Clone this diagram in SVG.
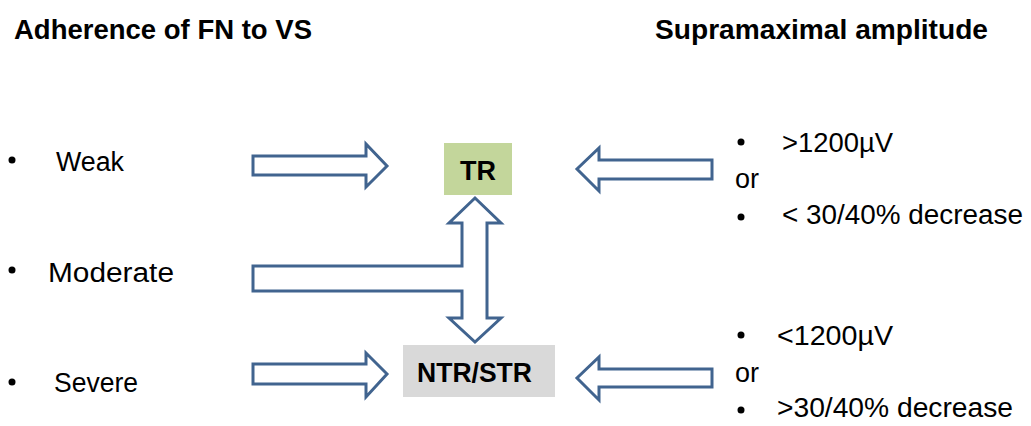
<svg xmlns="http://www.w3.org/2000/svg" width="1031" height="426" viewBox="0 0 1031 426">
<style>
.t{font-family:"Liberation Sans",Arial,sans-serif;font-size:27px;fill:#000}
.b{font-weight:bold}
.arr{fill:#fff;stroke:#41648f;stroke-width:3;stroke-linejoin:miter}
</style>
<rect width="1031" height="426" fill="#fff"/>
<g id="titles">
<text class="t b" x="14" y="39" font-size="25" textLength="298" lengthAdjust="spacingAndGlyphs">Adherence of FN to VS</text>
<text class="t b" x="655" y="39" font-size="25" textLength="333" lengthAdjust="spacingAndGlyphs">Supramaximal amplitude</text>
</g>
<g id="left-labels">
<circle cx="12" cy="160" r="3.5"/><text class="t" x="56" y="171" textLength="68" lengthAdjust="spacingAndGlyphs">Weak</text>
<circle cx="12" cy="270" r="3.5"/><text class="t" x="48" y="282" textLength="126" lengthAdjust="spacingAndGlyphs">Moderate</text>
<circle cx="12" cy="382" r="3.5"/><text class="t" x="54" y="392" textLength="84" lengthAdjust="spacingAndGlyphs">Severe</text>
</g>
<g id="TR">
<rect x="444" y="143" width="68" height="52" fill="#c3d69b"/>
<text class="t b" x="478" y="180" text-anchor="middle" font-size="28">TR</text>
</g>
<g id="NTR-STR">
<rect x="403" y="345" width="152" height="52" fill="#d9d9d9"/>
<text class="t b" x="417" y="382" font-size="28" textLength="115" lengthAdjust="spacingAndGlyphs">NTR/STR</text>
</g>
<g id="right-top">
<circle cx="741" cy="142" r="3.5"/><text class="t" x="782" y="152" textLength="111" lengthAdjust="spacingAndGlyphs">&gt;1200µV</text>
<text class="t" x="735" y="188">or</text>
<circle cx="741" cy="217" r="3.5"/><text class="t" x="782" y="224" textLength="241" lengthAdjust="spacingAndGlyphs">&lt; 30/40% decrease</text>
</g>
<g id="right-bottom">
<circle cx="741" cy="335" r="3.5"/><text class="t" x="777" y="345" textLength="116" lengthAdjust="spacingAndGlyphs">&lt;1200µV</text>
<text class="t" x="735" y="382">or</text>
<circle cx="741" cy="410" r="3.5"/><text class="t" x="777" y="417" textLength="236" lengthAdjust="spacingAndGlyphs">&gt;30/40% decrease</text>
</g>
<g id="connectors">
<path class="arr" d="M253,156 H366 V144 L387,166 L366,187 V175 H253 Z"/>
<path class="arr" d="M253,364 H366 V353 L387,374 L366,397 V384 H253 Z"/>
<path class="arr" d="M712,160 H599 V148 L577,169 L599,191 V179 H712 Z"/>
<path class="arr" d="M712,369 H599 V357 L577,378 L599,400 V387 H712 Z"/>
<path class="arr" d="M475,198 L501,223 H487 V318 H501 L475,342 L449,318 H462 V291 H253 V266 H462 V223 H449 Z"/>
</g>
</svg>
